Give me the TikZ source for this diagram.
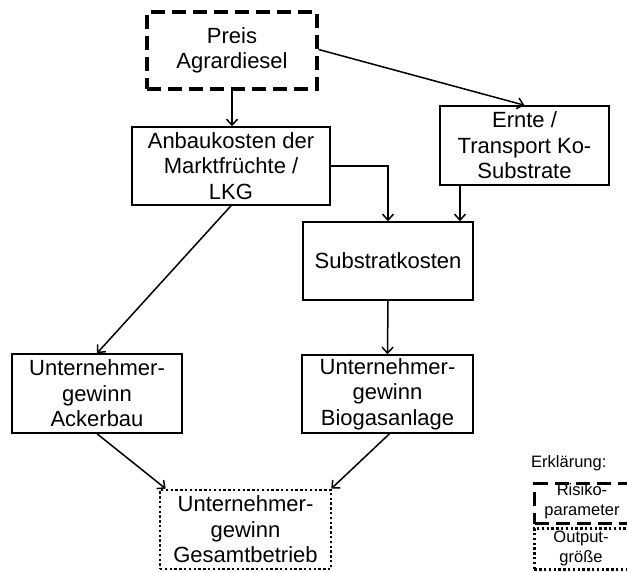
\documentclass[tikz,border=0pt]{standalone}
\usepackage{fontspec}
\setmainfont{Liberation Sans}
\usetikzlibrary{arrows.meta}
\begin{document}
\begin{tikzpicture}[x=1pt,y=-1pt,
  box/.style={draw,line width=1.5pt,align=center,inner sep=0pt,
    font=\fontsize{22}{25.5}\selectfont},
  risk/.style={box,line width=3.2pt,dash pattern=on 14pt off 7pt},
  outbox/.style={box,line width=2.6pt,dash pattern=on 2.4pt off 2.4pt},
  conn/.style={line width=1.5pt,-{Straight Barb[length=6pt,width=11pt,line width=1.5pt]}},
  legtext/.style={font=\fontsize{16.5}{20}\selectfont,align=center,inner sep=0pt}]
\useasboundingbox (0,0) rectangle (627,572);
\clip (0,0) rectangle (627,572);
\node[risk,minimum width=170pt,minimum height=77pt] (preis) at (232,50.5) {Preis\\Agrardiesel};
\node[box,minimum width=198pt,minimum height=78pt] (anbau) at (231,166) {Anbaukosten der\\Marktfrüchte /\\LKG};
\node[box,minimum width=169pt,minimum height=79pt] (ernte) at (524.5,145.5) {Ernte /\\Transport Ko-\\Substrate};
\node[box,minimum width=170pt,minimum height=78pt] (subst) at (388,261) {Substratkosten};
\node[box,minimum width=170pt,minimum height=79pt] (acker) at (97,393.5) {Unternehmer-\\gewinn\\Ackerbau};
\node[box,minimum width=171pt,minimum height=78pt] (biogas) at (387.5,394) {Unternehmer-\\gewinn\\Biogasanlage};
\node[outbox,minimum width=171pt,minimum height=79pt] (gesamt) at (245.5,529.5) {Unternehmer-\\gewinn\\Gesamtbetrieb};

\draw[conn] (preis.south) -- (preis.south |- anbau.north);
\draw[conn] ([yshift=1pt]preis.east) -- (ernte.north);
\draw[conn] (anbau.east) -| (subst.north);
\draw[conn] ([xshift=-64.5pt]ernte.south) -- ([xshift=-64.5pt]ernte.south |- subst.north);
\draw[conn] (anbau.south) -- (acker.north);
\draw[conn] (subst.south) -- (biogas.north);
\draw[conn] (acker.south) -- ([xshift=7pt]gesamt.north west);
\draw[conn] ([xshift=2pt]biogas.south) -- ([xshift=-1pt]gesamt.north east);

% legend
\node[legtext,anchor=west] (erkl) at (531,463) {Erklärung:};
\node[risk,minimum width=102pt,minimum height=40pt,anchor=north west] (lrisk) at (533,482) {};
\node[legtext] (lrisktext) at (582,501) {Risiko-\\parameter};
\node[outbox,minimum width=102pt,minimum height=41pt,anchor=north west] (lout) at (533,527) {};
\node[legtext] (louttext) at (581,548) {Output-\\größe};
\end{tikzpicture}
\end{document}
